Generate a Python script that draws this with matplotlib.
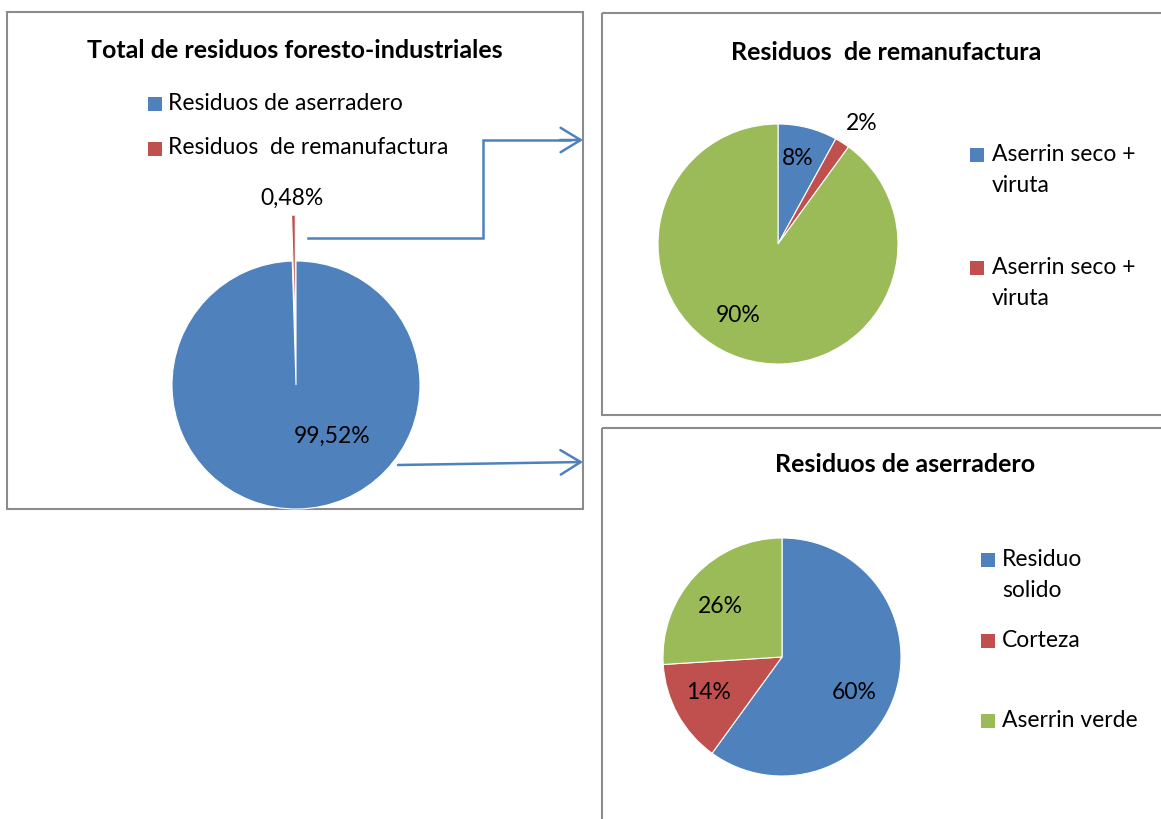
import matplotlib
matplotlib.use('Agg')
import matplotlib.pyplot as plt
from matplotlib.patches import Rectangle

plt.rcParams['font.family'] = ['Lato', 'DejaVu Sans']

W, H = 1161, 820

# datos
total_labels = ['Residuos de aserradero', 'Residuos  de remanufactura']
total_values = [99.52, 0.48]

reman_labels = ['Aserrin seco +\nviruta', 'Aserrin seco +\nviruta']   # el verde no sale en la leyenda
reman_values = [8, 2, 90]

aserr_labels = ['Residuo\nsolido', 'Corteza', 'Aserrin verde']
aserr_values = [60, 14, 26]

blue, red, green = '#4F81BD', '#C0504D', '#9BBB59'
arrow_col = '#4F81BD'
box_col = '#8C8C8C'

TXT = 16.5
TITLE = 18

fig = plt.figure(figsize=(W / 100, H / 100), dpi=100)
ax = fig.add_axes([0, 0, 1, 1])


def fmt(v):
    if v == int(v):
        return f'{int(v)}%'
    return f'{v:.2f}%'.replace('.', ',')


def draw_pie(values, colors, cx, cy, r, offsets, explode=None):
    # eje y invertido: startangle=-90 + counterclock=True -> horario desde arriba
    # explode en matplotlib va en unidades de datos, no en fraccion del radio
    if explode is not None:
        explode = [e * r for e in explode]
    wedges, _ = ax.pie(values, colors=colors, center=(cx, cy), radius=r,
                       startangle=-90, counterclock=True, explode=explode,
                       wedgeprops=dict(edgecolor='white', linewidth=0.8))
    for v, (dx, dy) in zip(values, offsets):
        ax.text(cx + dx * r, cy + dy * r, fmt(v), ha='center', va='center',
                fontsize=TXT, color='black')
    return wedges


def draw_legend(labels, colors, x, ys, tx):
    for lab, c, y in zip(labels, colors, ys):
        ax.add_patch(Rectangle((x, y - 7), 14, 14, facecolor=c, edgecolor='none'))
        ax.text(tx, y - 12, lab, ha='left', va='top', fontsize=TXT,
                linespacing=1.6)


# marcos
ax.add_patch(Rectangle((7, 13), 576, 497, fill=False, edgecolor=box_col, lw=1.5))
ax.add_patch(Rectangle((602, 14), 600, 402, fill=False, edgecolor=box_col, lw=1.5))
ax.add_patch(Rectangle((602, 429), 600, 420, fill=False, edgecolor=box_col, lw=1.5))

# panel 1
ax.text(295, 50, 'Total de residuos foresto-industriales', ha='center', va='center',
        fontsize=TITLE, fontweight='bold')
draw_legend(total_labels, [blue, red], 148, [105, 149.5], 168)
draw_pie(total_values, [blue, red], 296, 386, 124,
         [(0.29, 0.41), (-0.03, -1.51)], explode=[0, 0.37])

# flechas
ax.plot([308, 483, 483, 570], [239, 239, 141, 141], color=arrow_col, lw=1.8,
        solid_joinstyle='miter')
ax.annotate('', xy=(583, 141), xytext=(560, 141),
            arrowprops=dict(arrowstyle='->,head_length=0.9,head_width=0.55',
                            color=arrow_col, lw=1.8, mutation_scale=16,
                            shrinkA=0, shrinkB=0))
ax.annotate('', xy=(583, 463), xytext=(398, 466),
            arrowprops=dict(arrowstyle='->,head_length=0.9,head_width=0.55',
                            color=arrow_col, lw=1.8, mutation_scale=16,
                            shrinkA=0, shrinkB=0))

# panel 2
ax.text(886, 53, 'Residuos  de remanufactura', ha='center', va='center',
        fontsize=TITLE, fontweight='bold')
draw_pie(reman_values, [blue, red, green], 778, 245, 120,
         [(0.16, -0.72), (0.70, -1.01), (-0.33, 0.59)])
draw_legend(reman_labels, [blue, red], 970, [156, 269], 992)

# panel 3
ax.text(905, 465, 'Residuos de aserradero', ha='center', va='center',
        fontsize=TITLE, fontweight='bold')
draw_pie(aserr_values, [blue, red, green], 782, 658, 119,
         [(0.61, 0.29), (-0.62, 0.29), (-0.52, -0.43)])
draw_legend(aserr_labels, [blue, red, green], 981, [561, 642, 722], 1002)

ax.set_xlim(0, W)
ax.set_ylim(H, 0)
ax.set_aspect('auto')
ax.axis('off')

fig.savefig('out.png', dpi=100)
